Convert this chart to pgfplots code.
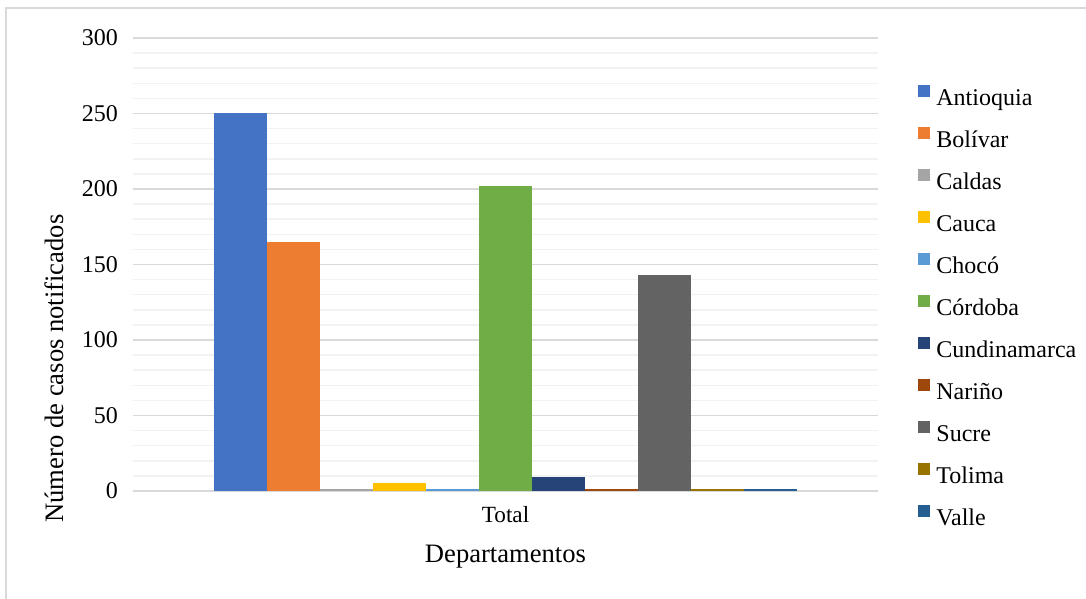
\documentclass[border=0pt]{standalone}
\usepackage{pgfplots}
\pgfplotsset{compat=1.18}
\usepackage{fontspec}
\setmainfont{Liberation Serif}
\definecolor{cA}{HTML}{4472C4}
\definecolor{cB}{HTML}{ED7D31}
\definecolor{cC}{HTML}{A5A5A5}
\definecolor{cD}{HTML}{FFC000}
\definecolor{cE}{HTML}{5B9BD5}
\definecolor{cF}{HTML}{70AD47}
\definecolor{cG}{HTML}{264478}
\definecolor{cH}{HTML}{9E480E}
\definecolor{cI}{HTML}{636363}
\definecolor{cJ}{HTML}{997300}
\definecolor{cK}{HTML}{255E91}
\definecolor{majgrid}{HTML}{D9D9D9}
\definecolor{mingrid}{HTML}{F2F2F2}
\begin{document}
\begin{tikzpicture}
\useasboundingbox (0,0) rectangle (543pt,299.5pt);
\draw[majgrid, line width=0.6pt] (3pt,0) -- (3pt,295.5pt) -- (543pt,295.5pt);
\begin{axis}[
  at={(66.5pt,54pt)}, anchor=south west,
  scale only axis, width=372.5pt, height=226.5pt,
  ybar=0pt, bar width=26.5pt,
  xmin=-1, xmax=1, ymin=0, ymax=300,
  xtick={0}, xticklabels={Total},
  ytick={0,50,...,300}, minor ytick={10,20,...,290},
  ymajorgrids, yminorgrids,
  major grid style={majgrid, line width=0.75pt},
  minor grid style={mingrid, line width=0.75pt},
  axis line style={draw=none},
  major tick length=0pt, minor tick length=0pt,
  tick style={draw=none},
  /pgf/number format/assume math mode=true,
  tick label style={font=\fontsize{12}{14}\selectfont, text=black},
  xticklabel style={font=\fontsize{11.6}{14}\selectfont, yshift=-4pt},
  yticklabel style={xshift=-4pt},
  xlabel={Departamentos},
  ylabel={Número de casos notificados},
  label style={font=\fontsize{13.3}{15}\selectfont},
  xlabel style={at={(axis description cs:0.5,-0.1457)}, anchor=center},
  ylabel style={at={(axis description cs:-0.106,0.2704)}, anchor=center},
  legend image code/.code={\fill[#1] (0pt,1.2pt) rectangle (6pt,7pt);},
  legend style={at={(axis description cs:1,1)}, anchor=north west,
    xshift=20pt, yshift=-23.5pt, draw=none, fill=none, inner sep=0pt,
    font=\fontsize{12}{14}\selectfont,
    nodes={inner sep=0pt, text height=8pt, text depth=2pt},
    row sep=9pt, column sep=3pt},
  legend cell align=left,
  every axis plot/.append style={draw=none},
]
\addplot[fill=cA] coordinates {(0,250)};
\addplot[fill=cB] coordinates {(0,165)};
\addplot[fill=cC] coordinates {(0,1)};
\addplot[fill=cD] coordinates {(0,5)};
\addplot[fill=cE] coordinates {(0,1)};
\addplot[fill=cF] coordinates {(0,202)};
\addplot[fill=cG] coordinates {(0,9)};
\addplot[fill=cH] coordinates {(0,1)};
\addplot[fill=cI] coordinates {(0,143)};
\addplot[fill=cJ] coordinates {(0,1)};
\addplot[fill=cK] coordinates {(0,1)};
\legend{Antioquia,Bolívar,Caldas,Cauca,Chocó,Córdoba,Cundinamarca,Nariño,Sucre,Tolima,Valle}
\end{axis}
\end{tikzpicture}
\end{document}
